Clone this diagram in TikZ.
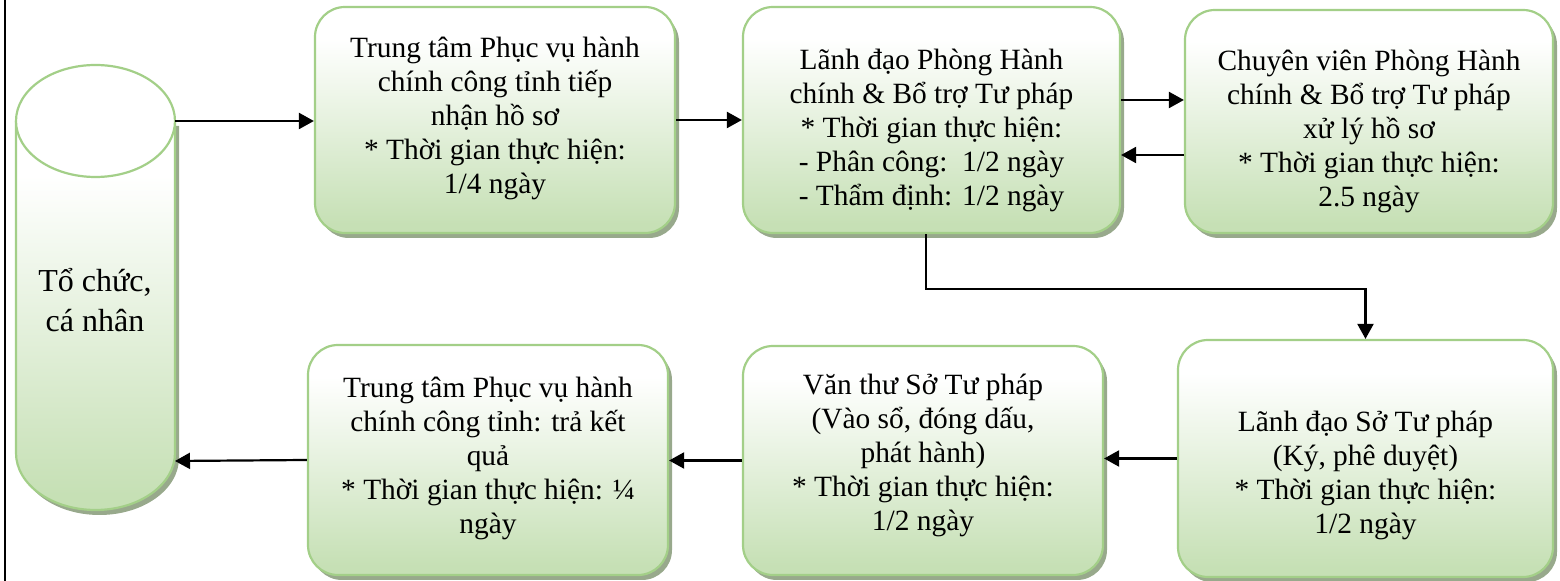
\documentclass[tikz,border=0pt]{standalone}
\usepackage{fontspec}
\setmainfont{Liberation Serif}
\usetikzlibrary{arrows.meta,shadows,calc}
\definecolor{boxborder}{HTML}{A3CF88}
\definecolor{boxgreen}{HTML}{C6E0B5}
\definecolor{shadowc}{HTML}{98A98C}
\pgfdeclareverticalshading{boxshade}{100bp}{color(0bp)=(boxgreen); color(27bp)=(boxgreen); color(68bp)=(white); color(100bp)=(white)}
\begin{document}
\begin{tikzpicture}[x=0.5pt,y=-0.5pt,
  stepbox/.style={draw=boxborder, line width=1.1pt, rounded corners=15pt,
    shading=boxshade,
    drop shadow={shadow xshift=2pt, shadow yshift=-2.5pt, fill=shadowc, opacity=1},
    inner sep=0pt},
  boxtext/.style={align=center, font=\fontsize{14.7}{17}\selectfont, inner sep=0pt},
  flow/.style={draw=black, line width=1.1pt, -{Triangle[length=7.5pt,width=8pt]}}]
\useasboundingbox (0,0) rectangle (1560,581);

% left border line
\draw[line width=1.2pt] (5,0) -- (5,581);

% cylinder
\begin{scope}[shift={(4,5)}]
  \fill[shadowc] (16,121) -- (16,453) arc[start angle=180,end angle=360,x radius=39.75pt,y radius=28.5pt] -- (175,121) -- cycle;
\end{scope}
\shade[shading=boxshade] (16,121) -- (16,453) arc[start angle=180,end angle=360,x radius=39.75pt,y radius=28.5pt] -- (175,121) -- cycle;
\draw[boxborder, line width=1.1pt] (16,121) -- (16,453) arc[start angle=180,end angle=360,x radius=39.75pt,y radius=28.5pt] -- (175,121);
\filldraw[fill=white, draw=boxborder, line width=1.1pt] (95.5,121) ellipse [x radius=39.75pt, y radius=28pt];
\node[font=\fontsize{16}{20}\selectfont, align=center] (org) at (95,300) {Tổ chức,\\cá nhân};
\coordinate (cylA) at (175,121);
\coordinate (cylB) at (175,461);

% boxes
\node[stepbox, minimum width=180pt, minimum height=113pt] (box1) at (495,120) {};
\node[stepbox, minimum width=188.5pt, minimum height=113pt] (box2) at (931.5,120) {};
\node[stepbox, minimum width=184pt, minimum height=111.5pt] (box3) at (1369,121.5) {};
\node[stepbox, minimum width=180pt, minimum height=115pt] (box4) at (488,460) {};
\node[stepbox, minimum width=180pt, minimum height=114.5pt] (box5) at (923,460.5) {};
\node[stepbox, minimum width=187.5pt, minimum height=118.5pt] (box6) at (1365.5,458.5) {};

% box texts
\node[boxtext] (t1) at (495,118)
  {Trung tâm Phục vụ hành\\chính công tỉnh tiếp\\nhận hồ sơ\\* Thời gian thực hiện:\\1/4 ngày};
\node[boxtext] (t2) at (931.5,130)
  {Lãnh đạo Phòng Hành\\chính \& Bổ trợ Tư pháp\\* Thời gian thực hiện:\\- Phân công:\ \ 1/2 ngày\\- Thẩm định: 1/2 ngày};
\node[boxtext] (t3) at (1369,131)
  {Chuyên viên Phòng Hành\\chính \& Bổ trợ Tư pháp\\xử lý hồ sơ\\* Thời gian thực hiện:\\2.5 ngày};
\node[boxtext] (t4) at (488,458)
  {Trung tâm Phục vụ hành\\chính công tỉnh: trả kết\\quả\\* Thời gian thực hiện: ¼\\ngày};
\node[boxtext] (t5) at (923,455)
  {Văn thư Sở Tư pháp\\(Vào sổ, đóng dấu,\\phát hành)\\* Thời gian thực hiện:\\1/2 ngày};
\node[boxtext] (t6) at (1365.5,475)
  {Lãnh đạo Sở Tư pháp\\(Ký, phê duyệt)\\* Thời gian thực hiện:\\1/2 ngày};

% connectors
\coordinate (a1) at ([yshift=10pt]box2.east);
\coordinate (a2) at ([yshift=-16.75pt]box3.west);
\coordinate (a3) at ([xshift=-2.75pt]box2.south);
\coordinate (turn) at (0,289);
\draw[flow] (cylA) -- (cylA -| box1.west);
\draw[flow] (box1.east) -- (box1.east -| box2.west);
\draw[flow] (a1) -- (a1 -| box3.west);
\draw[flow] (a2) -- (a2 -| box2.east);
\draw[flow] (a3) -- (a3 |- turn) -| (box6.north);
\draw[flow] (box6.west) -- (box6.west -| box5.east);
\draw[flow] (box5.west) -- (box5.west -| box4.east);
\draw[flow] (box4.west) -- (cylB);
\end{tikzpicture}
\end{document}
